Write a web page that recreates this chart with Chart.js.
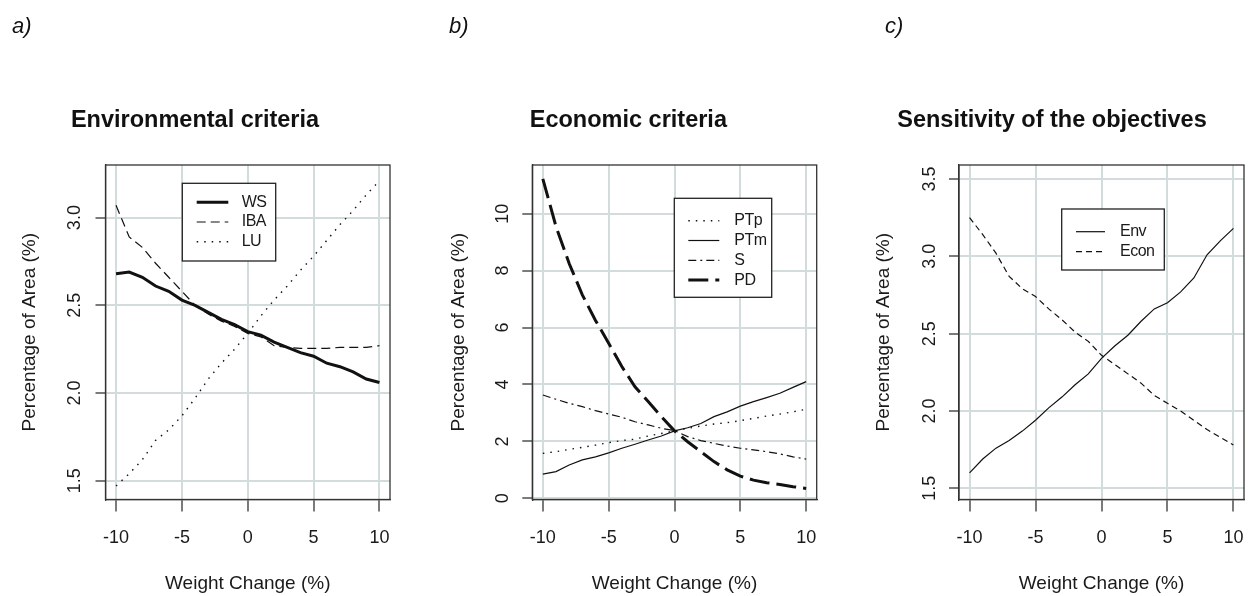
<!DOCTYPE html>
<html>
<head>
<meta charset="utf-8">
<script src="https://cdn.jsdelivr.net/npm/chart.js@4.4.0/dist/chart.umd.min.js"></script>
<style>
    html, body { margin: 0; padding: 0; background: #fff; overflow: hidden; }
    #page { position: relative; width: 1260px; height: 596px; overflow: hidden; font-family: "Liberation Sans", Arial, sans-serif; }
    canvas { position: absolute; top: 0; }
    .tag { position: absolute; top: 12px; font-style: italic; font-size: 22px; line-height: 28px; color: #111; }
</style>
</head>
<body>
<div id="page">
    <canvas id="chartA" width="496" height="596" style="left:0px"></canvas>
    <canvas id="chartB" width="469" height="596" style="left:440px"></canvas>
    <canvas id="chartC" width="483" height="596" style="left:860px"></canvas>
    <div class="tag" style="left:12px">a)</div>
    <div class="tag" style="left:449px">b)</div>
    <div class="tag" style="left:885px">c)</div>
</div>
<script>
// x values shared by the three panels
var weightChange = [-10, -9, -8, -7, -6, -5, -4, -3, -2, -1, 0, 1, 2, 3, 4, 5, 6, 7, 8, 9, 10];

// a) Environmental criteria
var wsArea = [2.68, 2.69, 2.66, 2.61, 2.58, 2.53, 2.50, 2.46, 2.42, 2.39, 2.35, 2.33, 2.29, 2.26, 2.23, 2.21, 2.17, 2.15, 2.12, 2.08, 2.06];
var ibaArea = [3.07, 2.89, 2.83, 2.74, 2.66, 2.58, 2.50, 2.45, 2.41, 2.38, 2.34, 2.32, 2.27, 2.26, 2.255, 2.255, 2.255, 2.26, 2.26, 2.26, 2.27];
var luArea = [1.47, 1.54, 1.62, 1.73, 1.79, 1.87, 1.97, 2.08, 2.17, 2.25, 2.34, 2.44, 2.53, 2.61, 2.70, 2.78, 2.87, 2.96, 3.04, 3.13, 3.21];

// b) Economic criteria
var ptpArea = [1.58, 1.64, 1.72, 1.79, 1.87, 1.96, 2.03, 2.08, 2.19, 2.28, 2.37, 2.46, 2.54, 2.61, 2.66, 2.73, 2.81, 2.89, 2.96, 3.04, 3.13];
var ptmArea = [0.85, 0.94, 1.17, 1.35, 1.46, 1.60, 1.76, 1.90, 2.05, 2.19, 2.37, 2.48, 2.63, 2.87, 3.04, 3.24, 3.40, 3.54, 3.69, 3.90, 4.10];
var sArea = [3.63, 3.48, 3.34, 3.22, 3.08, 2.96, 2.85, 2.69, 2.58, 2.46, 2.38, 2.17, 2.03, 1.93, 1.84, 1.76, 1.70, 1.64, 1.56, 1.46, 1.38];
var pdArea = [11.22, 9.55, 8.25, 7.15, 6.25, 5.45, 4.63, 3.92, 3.40, 2.87, 2.37, 1.99, 1.64, 1.29, 1.00, 0.78, 0.64, 0.55, 0.49, 0.41, 0.35];

// c) Sensitivity of the objectives
var envArea = [1.60, 1.69, 1.76, 1.81, 1.87, 1.94, 2.02, 2.09, 2.17, 2.24, 2.34, 2.42, 2.49, 2.58, 2.66, 2.70, 2.77, 2.86, 3.01, 3.10, 3.18];
var econArea = [3.25, 3.14, 3.02, 2.87, 2.79, 2.74, 2.66, 2.59, 2.51, 2.45, 2.36, 2.30, 2.24, 2.18, 2.10, 2.05, 2.00, 1.94, 1.88, 1.83, 1.78];

var fontFamily = '"Liberation Sans", Arial, sans-serif';
var textColor = '#1a1a1a';
var gridColor = '#d3dcdc';
var axisColor = '#333';

function points(values) {
    return weightChange.map(function (x, i) {
        return { x: x, y: values[i] };
    });
}

function line(label, values, width, dash) {
    return {
        label: label,
        data: points(values),
        borderColor: '#111',
        borderWidth: width,
        borderDash: dash,
        pointRadius: 0,
        tension: 0,
        fill: false
    };
}

// white legend box with a frame, placed relative to the plot area
var boxLegend = {
    id: 'boxLegend',
    afterDatasetsDraw: function (chart, args, opts) {
        var area = chart.chartArea;
        var ctx = chart.ctx;
        var bx = area.left + opts.x;
        var by = area.top + opts.y;
        ctx.save();
        ctx.fillStyle = '#fff';
        ctx.fillRect(bx, by, opts.w, opts.h);
        ctx.lineWidth = 1.3;
        ctx.strokeStyle = '#222';
        ctx.strokeRect(bx, by, opts.w, opts.h);
        ctx.font = '16px ' + fontFamily;
        ctx.textBaseline = 'middle';
        if ('letterSpacing' in ctx) ctx.letterSpacing = '-0.5px';
        chart.data.datasets.forEach(function (ds, i) {
            var y = by + opts.firstRow + i * opts.rowGap;
            ctx.beginPath();
            ctx.setLineDash(ds.borderDash || []);
            ctx.lineWidth = ds.borderWidth;
            ctx.strokeStyle = ds.borderColor;
            ctx.moveTo(bx + opts.lineX, y);
            ctx.lineTo(bx + opts.lineX + opts.lineLen, y);
            ctx.stroke();
            ctx.setLineDash([]);
            ctx.fillStyle = textColor;
            ctx.fillText(ds.label, bx + opts.textX, y);
        });
        ctx.restore();
    }
};

// frame around the plot area, like R's box()
var plotBox = {
    id: 'plotBox',
    afterDatasetsDraw: function (chart) {
        var a = chart.chartArea;
        var ctx = chart.ctx;
        ctx.save();
        ctx.lineWidth = 1.3;
        ctx.strokeStyle = axisColor;
        ctx.strokeRect(a.left, a.top, a.right - a.left, a.bottom - a.top);
        ctx.restore();
    }
};

function makePanel(id, p) {
    var ctx = document.getElementById(id).getContext('2d');
    return new Chart(ctx, {
        type: 'line',
        data: { datasets: p.datasets },
        plugins: [plotBox, boxLegend],
        options: {
            responsive: false,
            animation: false,
            events: [],
            layout: { padding: { left: 0, right: p.rightPad, top: 0, bottom: 0 } },
            scales: {
                x: {
                    type: 'linear',
                    min: -10.8,
                    max: 10.8,
                    ticks: { stepSize: 5, includeBounds: false, padding: 16, maxRotation: 0, color: textColor, font: { family: fontFamily, size: 18 } },
                    grid: { color: gridColor, lineWidth: 2, tickLength: 12, tickColor: axisColor, tickWidth: 1.3 },
                    border: { display: true, color: axisColor, width: 1.3 },
                    title: { display: true, text: 'Weight Change (%)', color: textColor, font: { family: fontFamily, size: 19 }, padding: { top: 0, bottom: 0.6 } },
                    afterFit: function (scale) { scale.height = 96.5; }
                },
                y: {
                    type: 'linear',
                    min: p.yMin,
                    max: p.yMax,
                    ticks: {
                        stepSize: p.yStep,
                        includeBounds: false,
                        minRotation: 90,
                        maxRotation: 90,
                        crossAlign: 'center',
                        padding: p.yTickPad,
                        color: textColor,
                        font: { family: fontFamily, size: 18 },
                        callback: function (v) { return p.yDigits ? v.toFixed(p.yDigits) : String(v); }
                    },
                    grid: { color: gridColor, lineWidth: 2, tickLength: 10, tickColor: axisColor, tickWidth: 1.3 },
                    border: { display: true, color: axisColor, width: 1.3 },
                    title: { display: true, text: 'Percentage of Area (%)', color: textColor, font: { family: fontFamily, size: 19 }, padding: { top: p.yTitlePad, bottom: 0 } },
                    afterFit: function (scale) { scale.width = p.yWidth; }
                }
            },
            plugins: {
                legend: { display: false },
                tooltip: { enabled: false },
                title: {
                    display: true,
                    text: p.title,
                    color: '#111',
                    font: { family: fontFamily, size: 23.5, weight: 'bold' },
                    padding: { top: 106.9, bottom: 29.9 }
                },
                boxLegend: p.legend
            }
        }
    });
}

makePanel('chartA', {
    title: 'Environmental criteria',
    datasets: [
        line('WS', wsArea, 3, []),
        line('IBA', ibaArea, 1.2, [9, 5]),
        line('LU', luArea, 1.4, [1.5, 6])
    ],
    yMin: 1.393, yMax: 3.30, yStep: 0.5, yDigits: 1,
    yWidth: 105.5, rightPad: 106, yTickPad: 8, yTitlePad: 18.6,
    legend: { x: 76.8, y: 18.3, w: 93.4, h: 77.7, lineX: 14.4, lineLen: 31.6, textX: 59.4, firstRow: 19, rowGap: 19.7 }
});

makePanel('chartB', {
    title: 'Economic criteria',
    datasets: [
        line('PTp', ptpArea, 1.4, [1.5, 6]),
        line('PTm', ptmArea, 1.2, []),
        line('S', sArea, 1.2, [8, 4, 2, 4]),
        line('PD', pdArea, 3, [20, 7])
    ],
    yMin: -0.04, yMax: 11.71, yStep: 2, yDigits: 0,
    yWidth: 92.3, rightPad: 92.3, yTickPad: 9, yTitlePad: 7.3,
    legend: { x: 142, y: 33.3, w: 97.4, h: 99, lineX: 14, lineLen: 31, textX: 60, firstRow: 22.4, rowGap: 19.8 }
});

makePanel('chartC', {
    title: 'Sensitivity of the objectives',
    datasets: [
        line('Env', envArea, 1.2, []),
        line('Econ', econArea, 1.2, [6, 4])
    ],
    yMin: 1.428, yMax: 3.59, yStep: 0.5, yDigits: 1,
    yWidth: 99, rightPad: 99, yTickPad: 6.5, yTitlePad: 12.4,
    legend: { x: 102.7, y: 44, w: 102.6, h: 61, lineX: 14.3, lineLen: 29, textX: 58.3, firstRow: 22.7, rowGap: 20 }
});
</script>
</body>
</html>
